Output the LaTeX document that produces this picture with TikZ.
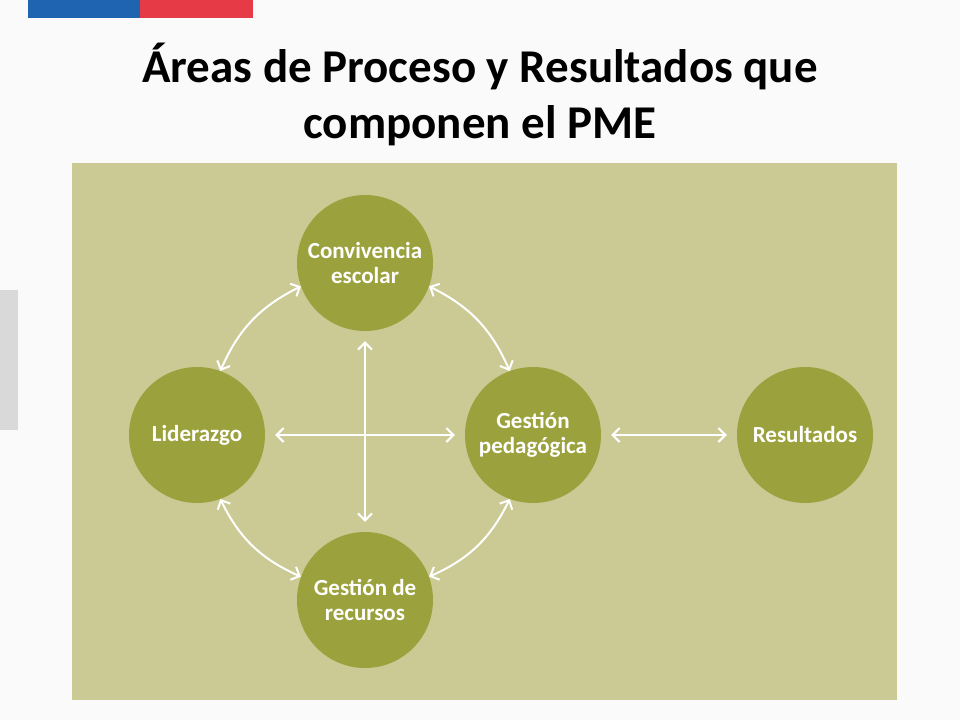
\documentclass[tikz,border=0pt]{standalone}
\usepackage{fontspec}
\setmainfont{Carlito}
\usetikzlibrary{arrows.meta}
\definecolor{panel}{HTML}{CBCA94}
\definecolor{olive}{HTML}{9BA23D}
\definecolor{chileblue}{HTML}{1F64B0}
\definecolor{chilered}{HTML}{E63B47}
\begin{document}
\begin{tikzpicture}[x=1pt,y=-1pt,
    area/.style={circle,fill=olive,minimum size=136pt,inner sep=0pt,
      text=white,font=\fontsize{23}{25}\selectfont\bfseries,align=center},
    link/.style={draw=white,line width=2pt,{Straight Barb[length=7pt,width=14pt]}-{Straight Barb[length=7pt,width=14pt]}}]
    % Background and frame
    \fill[white!96!gray] (0,0) rectangle (960,720);
    \useasboundingbox (0,0) rectangle (960,720);
    \fill[chileblue] (28,0) rectangle (140,18);
    \fill[chilered] (140,0) rectangle (253,18);
    \fill[gray!30] (0,290) rectangle (18,430);
    \node[font=\fontsize{47}{56}\selectfont\bfseries,align=center] (title) at (480,94)
      {Áreas de Proceso y Resultados que\\componen el PME};
    \fill[panel] (72,163) rectangle (897,700);
    % The areas
    \node[area] (conv) at (365,263) {Convivencia\\escolar};
    \node[area] (lid) at (197,435) {Liderazgo};
    \node[area] (ped) at (533,435) {Gestión\\pedagógica};
    \node[area] (rec) at (365,600) {Gestión de\\recursos};
    \node[area] (res) at (805,435) {Resultados};
    % Curved links around the ring
    \draw[link] (conv.200) to[bend right=20] (lid.70);
    \draw[link] (conv.340) to[bend left=20] (ped.110);
    \draw[link] (lid.290) to[bend right=20] (rec.160);
    \draw[link] (ped.250) to[bend left=20] (rec.20);
    % Straight links
    \draw[link] ([yshift=-10pt]conv.south) -- ([yshift=10pt]rec.north);
    \draw[link] ([xshift=10pt]lid.east) -- ([xshift=-10pt]ped.west);
    \draw[link] ([xshift=10pt]ped.east) -- ([xshift=-10pt]res.west);
\end{tikzpicture}
\end{document}
